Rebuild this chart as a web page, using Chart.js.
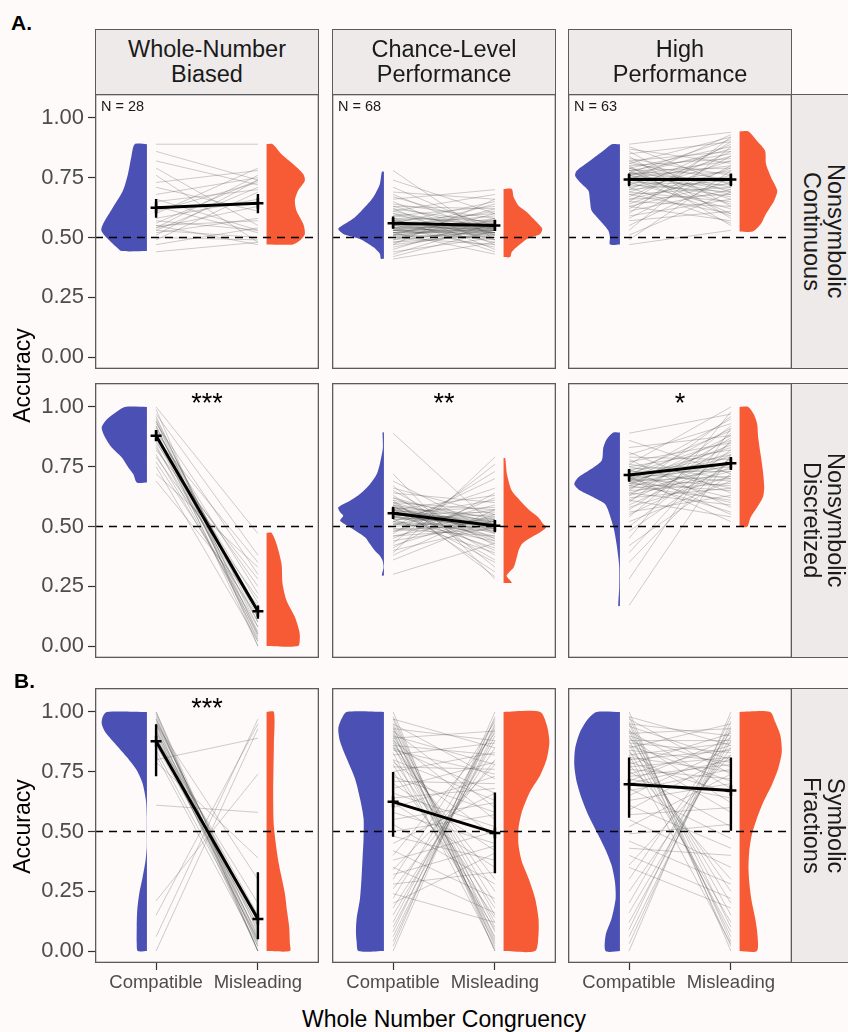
<!DOCTYPE html>
<html>
<head>
<meta charset="utf-8">
<script src="https://cdn.jsdelivr.net/npm/chart.js@4.4.1/dist/chart.umd.min.js"></script>
<style>
html, body { margin: 0; padding: 0; background: #fdfaf9; }
#fig { position: relative; width: 848px; height: 1032px; overflow: hidden; font-family: "Liberation Sans", Arial, sans-serif; color: #1a1a1a; }
.txt { position: absolute; white-space: nowrap; line-height: 1; }
.strip { position: absolute; box-sizing: border-box; background: #eeeaea; border: 1.3px solid #5b5b5b; display: flex; align-items: center; justify-content: center; text-align: center; font-size: 23.5px; line-height: 25px; white-space: pre-line; }
.strip.right { writing-mode: vertical-rl; line-height: 24px; }
canvas { position: absolute; }
</style>
</head>
<body>
<div id="fig"></div>
<script>
// categories / labels
const conditions = ['Whole-Number\nBiased', 'Chance-Level\nPerformance', 'High\nPerformance'];
const formats = ['Nonsymbolic\nContinuous', 'Nonsymbolic\nDiscretized', 'Symbolic\nFractions'];
const groupN = [28, 68, 63];
const xCategories = ['Compatible', 'Misleading'];
const yTicks = [0, 0.25, 0.5, 0.75, 1];
const chanceLevel = 0.5;
const sigStars = [['', '', ''], ['***', '**', '*'], ['***', '', '']];

// group means and intervals [row][col]
const meanCompatible = [[0.624, 0.560, 0.742], [0.879, 0.555, 0.715], [0.877, 0.624, 0.698]];
const meanMisleading = [[0.643, 0.550, 0.742], [0.146, 0.503, 0.764], [0.134, 0.494, 0.671]];
const ciCompatible = [[[0.582, 0.661], [0.539, 0.588], [0.714, 0.768]], [[0.858, 0.903], [0.531, 0.583], [0.687, 0.740]], [[0.731, 0.948], [0.478, 0.749], [0.557, 0.809]]];
const ciMisleading = [[[0.601, 0.682], [0.529, 0.574], [0.714, 0.768]], [[0.114, 0.170], [0.476, 0.527], [0.736, 0.791]], [[0.049, 0.329], [0.325, 0.663], [0.503, 0.809]]];

// participants [compatible, misleading]
const contWNB = [[0.89,0.89],[0.86,0.74],[0.82,0.72],[0.79,0.55],[0.76,0.48],[0.73,0.78],[0.71,0.61],[0.68,0.75],[0.66,0.53],[0.65,0.70],[0.63,0.52],[0.61,0.73],[0.60,0.79],[0.58,0.66],[0.57,0.53],[0.56,0.74],[0.55,0.57],[0.55,0.47],[0.54,0.76],[0.54,0.63],[0.53,0.50],[0.53,0.71],[0.52,0.58],[0.51,0.74],[0.50,0.49],[0.49,0.69],[0.47,0.54],[0.44,0.48]];
const contChance = [[0.78,0.49],[0.74,0.60],[0.71,0.53],[0.69,0.66],[0.68,0.51],[0.67,0.55],[0.66,0.70],[0.65,0.47],[0.64,0.58],[0.63,0.62],[0.63,0.53],[0.62,0.45],[0.62,0.56],[0.61,0.68],[0.61,0.52],[0.60,0.54],[0.60,0.49],[0.59,0.63],[0.59,0.55],[0.58,0.52],[0.58,0.57],[0.58,0.44],[0.57,0.53],[0.57,0.60],[0.57,0.51],[0.56,0.54],[0.56,0.65],[0.56,0.52],[0.56,0.48],[0.55,0.56],[0.55,0.53],[0.55,0.59],[0.55,0.50],[0.54,0.54],[0.54,0.52],[0.54,0.61],[0.54,0.46],[0.54,0.55],[0.53,0.53],[0.53,0.57],[0.53,0.51],[0.53,0.64],[0.53,0.54],[0.53,0.49],[0.52,0.52],[0.52,0.56],[0.52,0.43],[0.52,0.58],[0.52,0.53],[0.51,0.55],[0.51,0.50],[0.51,0.62],[0.51,0.54],[0.50,0.52],[0.50,0.57],[0.50,0.47],[0.49,0.53],[0.49,0.60],[0.48,0.51],[0.48,0.55],[0.47,0.66],[0.47,0.52],[0.46,0.54],[0.45,0.58],[0.44,0.50],[0.43,0.56],[0.42,0.53],[0.41,0.48]];
const contHigh = [[0.89,0.94],[0.88,0.72],[0.87,0.81],[0.86,0.63],[0.85,0.90],[0.84,0.58],[0.83,0.76],[0.82,0.86],[0.82,0.69],[0.81,0.92],[0.81,0.74],[0.80,0.55],[0.80,0.83],[0.79,0.71],[0.79,0.88],[0.79,0.66],[0.78,0.79],[0.78,0.60],[0.78,0.85],[0.77,0.73],[0.77,0.68],[0.77,0.91],[0.77,0.77],[0.76,0.64],[0.76,0.82],[0.76,0.70],[0.76,0.87],[0.75,0.59],[0.75,0.75],[0.75,0.80],[0.74,0.67],[0.74,0.93],[0.73,0.72],[0.73,0.62],[0.72,0.84],[0.72,0.69],[0.71,0.78],[0.71,0.56],[0.70,0.89],[0.70,0.74],[0.69,0.65],[0.69,0.82],[0.68,0.71],[0.68,0.60],[0.67,0.86],[0.66,0.76],[0.66,0.68],[0.65,0.90],[0.65,0.63],[0.64,0.79],[0.63,0.73],[0.63,0.57],[0.62,0.84],[0.61,0.70],[0.60,0.92],[0.59,0.66],[0.58,0.80],[0.57,0.61],[0.55,0.75],[0.53,0.88],[0.51,0.69],[0.49,0.78],[0.47,0.53]];
const discWNB = [[1.00,0.47],[0.99,0.00],[0.97,0.38],[0.96,0.05],[0.95,0.10],[0.94,0.02],[0.94,0.12],[0.93,0.30],[0.92,0.04],[0.92,0.08],[0.91,0.15],[0.90,0.00],[0.90,0.22],[0.89,0.06],[0.88,0.18],[0.88,0.03],[0.87,0.35],[0.86,0.10],[0.85,0.25],[0.84,0.05],[0.83,0.14],[0.82,0.28],[0.80,0.08],[0.79,0.20],[0.77,0.12],[0.75,0.02],[0.72,0.33],[0.69,0.17]];
const discChance = [[0.89,0.50],[0.72,0.28],[0.69,0.47],[0.67,0.33],[0.66,0.55],[0.65,0.42],[0.64,0.60],[0.63,0.38],[0.62,0.51],[0.62,0.45],[0.61,0.29],[0.61,0.53],[0.60,0.49],[0.60,0.36],[0.60,0.57],[0.59,0.44],[0.59,0.52],[0.59,0.31],[0.58,0.50],[0.58,0.54],[0.58,0.40],[0.58,0.47],[0.57,0.51],[0.57,0.63],[0.57,0.43],[0.57,0.50],[0.57,0.35],[0.56,0.52],[0.56,0.48],[0.56,0.58],[0.56,0.45],[0.56,0.50],[0.55,0.53],[0.55,0.41],[0.55,0.49],[0.55,0.56],[0.54,0.51],[0.54,0.46],[0.54,0.61],[0.54,0.50],[0.53,0.52],[0.53,0.39],[0.53,0.55],[0.52,0.49],[0.52,0.66],[0.52,0.44],[0.51,0.51],[0.51,0.57],[0.51,0.48],[0.50,0.53],[0.50,0.70],[0.49,0.50],[0.49,0.46],[0.48,0.59],[0.48,0.52],[0.47,0.73],[0.46,0.49],[0.46,0.54],[0.45,0.62],[0.44,0.51],[0.43,0.76],[0.42,0.55],[0.41,0.64],[0.40,0.50],[0.39,0.79],[0.38,0.57],[0.36,0.53],[0.30,0.43]];
const discHigh = [[0.89,0.97],[0.86,0.72],[0.83,0.88],[0.81,0.64],[0.80,0.93],[0.79,0.78],[0.78,0.58],[0.77,0.85],[0.76,0.70],[0.76,1.00],[0.75,0.66],[0.75,0.82],[0.74,0.76],[0.74,0.55],[0.73,0.90],[0.73,0.73],[0.72,0.62],[0.72,0.86],[0.72,0.69],[0.71,0.80],[0.71,0.52],[0.71,0.95],[0.70,0.75],[0.70,0.67],[0.70,0.83],[0.70,0.60],[0.69,0.79],[0.69,0.71],[0.69,0.91],[0.69,0.56],[0.68,0.77],[0.68,0.84],[0.68,0.65],[0.67,0.74],[0.67,0.88],[0.67,0.61],[0.66,0.81],[0.66,0.70],[0.65,0.96],[0.65,0.68],[0.64,0.76],[0.64,0.59],[0.63,0.87],[0.63,0.73],[0.62,0.66],[0.61,0.80],[0.61,0.54],[0.60,0.92],[0.59,0.78],[0.58,0.71],[0.57,0.85],[0.56,0.63],[0.55,0.75],[0.54,0.89],[0.52,0.69],[0.50,0.82],[0.48,0.77],[0.45,0.98],[0.42,0.72],[0.39,0.86],[0.35,0.79],[0.28,0.91],[0.17,0.80]];
const symWNB = [[1.00,0.00],[1.00,0.05],[0.99,0.02],[0.98,0.00],[0.97,0.08],[0.97,0.04],[0.96,0.10],[0.95,0.00],[0.95,0.12],[0.94,0.06],[0.93,0.03],[0.92,0.15],[0.92,0.00],[0.91,0.09],[0.90,0.04],[0.89,0.20],[0.88,0.07],[0.86,0.11],[0.84,0.05],[0.82,0.02],[0.79,0.39],[0.95,0.30],[0.80,0.89],[0.61,0.58],[0.21,0.74],[0.15,0.95],[0.06,0.97],[0.00,0.93]];
const symChance = [[1.00,0.00],[0.98,0.05],[0.97,0.02],[0.95,0.10],[0.94,0.00],[0.93,0.15],[0.92,0.04],[0.91,0.08],[0.90,0.20],[0.89,0.03],[0.88,0.12],[0.87,0.25],[0.86,0.06],[0.85,0.30],[0.83,0.01],[0.80,0.18],[0.78,0.09],[0.75,0.14],[0.00,0.98],[0.02,1.00],[0.04,0.95],[0.06,0.92],[0.08,0.97],[0.10,0.90],[0.12,0.94],[0.15,0.88],[0.18,0.85],[0.22,0.93],[0.26,0.80],[0.30,0.96],[0.34,0.78],[0.40,0.91],[0.97,0.85],[0.95,0.72],[0.93,0.88],[0.92,0.60],[0.90,0.78],[0.89,0.92],[0.88,0.55],[0.86,0.82],[0.85,0.66],[0.84,0.74],[0.82,0.87],[0.80,0.63],[0.79,0.48],[0.77,0.76],[0.75,0.83],[0.73,0.58],[0.71,0.70],[0.70,0.42],[0.68,0.79],[0.66,0.52],[0.64,0.68],[0.62,0.35],[0.60,0.73],[0.58,0.45],[0.55,0.62],[0.53,0.28],[0.50,0.57],[0.48,0.38],[0.45,0.66],[0.42,0.22],[0.38,0.50],[0.35,0.16],[0.32,0.44],[0.28,0.33],[0.24,0.12],[0.20,0.41]];
const symHigh = [[1.00,0.00],[0.98,0.04],[0.96,0.10],[0.95,0.02],[0.93,0.15],[0.92,0.06],[0.90,0.20],[0.88,0.08],[0.86,0.25],[0.84,0.12],[0.82,0.03],[0.78,0.30],[0.00,1.00],[0.03,0.96],[0.06,0.93],[0.09,0.98],[0.12,0.90],[0.16,0.88],[0.20,0.94],[0.25,0.85],[0.30,0.92],[0.36,0.82],[0.98,0.86],[0.97,0.74],[0.95,0.90],[0.94,0.80],[0.92,0.68],[0.91,0.93],[0.90,0.77],[0.89,0.62],[0.88,0.88],[0.87,0.83],[0.86,0.71],[0.85,0.95],[0.84,0.79],[0.83,0.58],[0.82,0.87],[0.81,0.75],[0.80,0.84],[0.79,0.66],[0.78,0.91],[0.77,0.81],[0.76,0.72],[0.75,0.52],[0.74,0.86],[0.73,0.78],[0.72,0.64],[0.71,0.89],[0.70,0.80],[0.68,0.47],[0.67,0.76],[0.65,0.85],[0.63,0.70],[0.61,0.43],[0.59,0.82],[0.57,0.60],[0.55,0.35],[0.52,0.74],[0.49,0.53],[0.46,0.28],[0.43,0.40],[0.40,0.22],[0.35,0.18]];

// half-violin density profiles [accuracy, half-width]
const vCompCont = [[[0.89,0.12],[0.835,0.154],[0.765,0.186],[0.696,0.235],[0.626,0.333],[0.557,0.43],[0.529,0.448],[0.501,0.40],[0.46,0.30],[0.443,0.25]],
  [[0.775,0.02],[0.724,0.04],[0.668,0.105],[0.627,0.186],[0.585,0.284],[0.557,0.382],[0.536,0.448],[0.515,0.399],[0.494,0.235],[0.46,0.105],[0.432,0.04],[0.411,0.03]],
  [[0.89,0.08],[0.8625,0.163],[0.821,0.294],[0.779,0.425],[0.758,0.44],[0.73,0.39],[0.696,0.31],[0.654,0.294],[0.6125,0.278],[0.571,0.196],[0.529,0.114],[0.501,0.098],[0.471,0.098]]];
const vMisCont = [[[0.89,0.06],[0.848,0.147],[0.807,0.26],[0.765,0.36],[0.737,0.376],[0.696,0.31],[0.654,0.278],[0.612,0.294],[0.557,0.36],[0.515,0.376],[0.487,0.327],[0.471,0.26]],
  [[0.703,0.08],[0.668,0.10],[0.633,0.147],[0.606,0.23],[0.578,0.294],[0.557,0.34],[0.536,0.38],[0.515,0.36],[0.494,0.23],[0.466,0.147],[0.439,0.08],[0.418,0.065]],
  [[0.943,0.088],[0.904,0.17],[0.8625,0.25],[0.807,0.26],[0.751,0.31],[0.696,0.37],[0.654,0.34],[0.599,0.26],[0.557,0.21],[0.525,0.13]]];
const vCompDisc = [[[1.0,0.216],[0.976,0.31],[0.949,0.39],[0.914,0.444],[0.872,0.41],[0.83,0.346],[0.789,0.248],[0.747,0.183],[0.719,0.134],[0.684,0.10]],
  [[0.893,0.013],[0.83,0.01],[0.761,0.04],[0.719,0.07],[0.677,0.137],[0.636,0.235],[0.608,0.333],[0.58,0.448],[0.559,0.43],[0.545,0.40],[0.524,0.43],[0.497,0.333],[0.455,0.186],[0.427,0.137],[0.399,0.088],[0.378,0.04],[0.357,0.013],[0.33,0.004],[0.295,0.02]],
  [[0.893,0.065],[0.865,0.13],[0.83,0.163],[0.775,0.18],[0.733,0.31],[0.705,0.41],[0.677,0.448],[0.65,0.39],[0.622,0.26],[0.594,0.147],[0.566,0.114],[0.524,0.082],[0.483,0.056],[0.427,0.033],[0.371,0.016],[0.33,0.007],[0.246,0.007],[0.167,0.016]]];
const vMisDisc = [[[0.473,0.05],[0.427,0.098],[0.344,0.147],[0.26,0.157],[0.19,0.196],[0.121,0.278],[0.065,0.32],[0.0375,0.327],[0,0.31]],
  [[0.786,0.016],[0.719,0.033],[0.65,0.08],[0.608,0.163],[0.566,0.26],[0.538,0.343],[0.51,0.39],[0.497,0.418],[0.476,0.36],[0.448,0.245],[0.427,0.18],[0.399,0.147],[0.371,0.13],[0.33,0.1],[0.295,0.03],[0.274,0.065],[0.264,0.08]],
  [[1.0,0.085],[0.969,0.14],[0.928,0.173],[0.872,0.183],[0.803,0.206],[0.733,0.229],[0.663,0.242],[0.622,0.229],[0.58,0.173],[0.538,0.108],[0.499,0.075]]];
const vCompSym = [[[1.0,0.395],[0.979,0.435],[0.951,0.444],[0.916,0.41],[0.868,0.314],[0.812,0.2],[0.756,0.1],[0.70,0.042],[0.631,0.01],[0.561,0.002],[0.49,0.002],[0.436,0.002],[0.38,0.013],[0.31,0.042],[0.241,0.075],[0.171,0.095],[0.102,0.1],[0.032,0.1],[0,0.09]],
  [[1.0,0.366],[0.972,0.415],[0.93,0.448],[0.875,0.43],[0.805,0.366],[0.721,0.284],[0.638,0.235],[0.554,0.2],[0.471,0.2],[0.387,0.21],[0.304,0.22],[0.22,0.235],[0.136,0.268],[0.081,0.275],[0.039,0.268],[0,0.25]],
  [[1.0,0.229],[0.972,0.31],[0.916,0.392],[0.847,0.44],[0.777,0.448],[0.708,0.425],[0.638,0.376],[0.568,0.31],[0.499,0.229],[0.429,0.147],[0.359,0.082],[0.29,0.049],[0.22,0.042],[0.136,0.082],[0.067,0.14],[0,0.14]]];
const vMisSym = [[[1.0,0.072],[0.868,0.072],[0.659,0.065],[0.52,0.072],[0.38,0.114],[0.31,0.147],[0.241,0.18],[0.171,0.2],[0.102,0.222],[0.032,0.229],[0,0.229]],
  [[1.0,0.36],[0.944,0.425],[0.875,0.45],[0.805,0.425],[0.735,0.36],[0.666,0.26],[0.582,0.18],[0.513,0.147],[0.443,0.147],[0.373,0.18],[0.304,0.245],[0.22,0.31],[0.136,0.343],[0.067,0.343],[0,0.31]],
  [[1.0,0.30],[0.958,0.35],[0.903,0.40],[0.833,0.415],[0.763,0.38],[0.694,0.317],[0.624,0.235],[0.554,0.17],[0.485,0.12],[0.415,0.095],[0.345,0.088],[0.276,0.098],[0.206,0.12],[0.136,0.154],[0.067,0.176],[0,0.17]]];

const participants = [[contWNB, contChance, contHigh], [discWNB, discChance, discHigh], [symWNB, symChance, symHigh]];
const violinComp = [vCompCont, vCompDisc, vCompSym];
const violinMis = [vMisCont, vMisDisc, vMisSym];

// layout
const colLeft = [95, 332, 568];
const rowTop = [94, 383, 688];
const panelW = 224, panelH = 275, yAxisW = 65, xAxisH = 40;
const compEdge = 0.91, misEdge = 2.085;
const BLUE = '#4b50b5', ORANGE = '#f65b36';

Chart.defaults.font.family = '"Liberation Sans", Arial, sans-serif';

const fig = document.getElementById('fig');
function addText(txt, css) {
  const d = document.createElement('div');
  d.className = 'txt';
  d.textContent = txt;
  Object.assign(d.style, css);
  fig.appendChild(d);
  return d;
}

const panelBorder = {
  id: 'panelBorder',
  afterDraw(chart) {
    const { ctx, chartArea: a } = chart;
    ctx.save();
    ctx.strokeStyle = '#5b5b5b';
    ctx.lineWidth = 1.3;
    ctx.strokeRect(a.left + 0.65, a.top + 0.65, a.right - a.left - 1.3, a.bottom - a.top - 1.3);
    ctx.restore();
  }
};

function violinPoints(profile, edge, dir) {
  const pts = [{ x: edge, y: profile[0][0] }];
  profile.forEach(([y, w]) => pts.push({ x: edge + dir * w, y: y }));
  pts.push({ x: edge, y: profile[profile.length - 1][0] });
  return pts;
}

function pairLines(pairs) {
  const d = [];
  pairs.forEach(([c, m]) => d.push({ x: 1, y: c }, { x: 2, y: m }, { x: 1.5, y: null }));
  return d;
}

// fixed axis boxes, no automatic label padding
function fitAxis(size, horizontal) {
  return (s) => {
    if (horizontal) s.height = size; else s.width = size;
    s.paddingLeft = s.paddingRight = s.paddingTop = s.paddingBottom = 0;
  };
}

function makePanel(r, c) {
  const showY = c === 0, showX = r === 2;
  const cv = document.createElement('canvas');
  const w = panelW + (showY ? yAxisW : 0);
  const h = panelH + (showX ? xAxisH : 0);
  cv.width = w; cv.height = h;
  cv.style.left = (colLeft[c] - (showY ? yAxisW : 0)) + 'px';
  cv.style.top = rowTop[r] + 'px';
  cv.style.width = w + 'px'; cv.style.height = h + 'px';
  fig.appendChild(cv);

  const ciC = ciCompatible[r][c], ciM = ciMisleading[r][c];
  const datasets = [
    { data: [{ x: 1, y: meanCompatible[r][c] }, { x: 2, y: meanMisleading[r][c] }],
      borderColor: '#000', borderWidth: 3, pointStyle: 'cross', pointRadius: 5.5,
      pointBorderWidth: 2.5, pointBorderColor: '#000', order: 0 },
    { data: [{ x: 1, y: ciC[0] }, { x: 1, y: ciC[1] }, { x: 1.5, y: null }, { x: 2, y: ciM[0] }, { x: 2, y: ciM[1] }],
      borderColor: '#000', borderWidth: 2.4, pointRadius: 0, order: 1 },
    { data: [{ x: 0.4, y: chanceLevel }, { x: 2.6, y: chanceLevel }],
      borderColor: '#000', borderWidth: 1.6, borderDash: [8, 6], pointRadius: 0, order: 2 },
    { data: pairLines(participants[r][c]),
      borderColor: 'rgba(70,70,70,0.26)', borderWidth: 1, pointRadius: 0, order: 3 },
    { data: violinPoints(violinComp[r][c], compEdge, -1),
      backgroundColor: BLUE, borderWidth: 0, pointRadius: 0, fill: 'shape', tension: 0.25, order: 4 },
    { data: violinPoints(violinMis[r][c], misEdge, 1),
      backgroundColor: ORANGE, borderWidth: 0, pointRadius: 0, fill: 'shape', tension: 0.25, order: 5 }
  ];

  new Chart(cv, {
    type: 'line',
    data: { datasets },
    options: {
      responsive: false, animation: false, events: [],
      layout: { padding: 0, autoPadding: false },
      plugins: { legend: { display: false }, tooltip: { enabled: false } },
      scales: {
        x: {
          type: 'linear', min: 0.4, max: 2.6, display: showX,
          afterBuildTicks: (s) => { s.ticks = [{ value: 1 }, { value: 2 }]; },
          afterFit: fitAxis(showX ? xAxisH : 0, true),
          border: { display: false },
          grid: { drawOnChartArea: false, drawTicks: true, tickLength: 7, tickColor: '#333', tickWidth: 1.2 },
          ticks: { autoSkip: false, maxRotation: 0, padding: 2, color: '#4d4d4d', font: { size: 18.5 },
                   callback: (v) => xCategories[Math.round(v) - 1] }
        },
        y: {
          type: 'linear', min: -0.05, max: 1.1, display: showY,
          afterBuildTicks: (s) => { s.ticks = yTicks.map(v => ({ value: v })); },
          afterFit: fitAxis(showY ? yAxisW : 0, false),
          border: { display: false },
          grid: { drawOnChartArea: false, drawTicks: true, tickLength: 7, tickColor: '#333', tickWidth: 1.2 },
          ticks: { padding: 4, color: '#4d4d4d', font: { size: 22 }, callback: (v) => v.toFixed(2) }
        }
      }
    },
    plugins: [panelBorder]
  });
}

for (let r = 0; r < 3; r++) for (let c = 0; c < 3; c++) makePanel(r, c);

// facet strips
conditions.forEach((t, c) => {
  const s = document.createElement('div');
  s.className = 'strip';
  s.textContent = t;
  Object.assign(s.style, { left: colLeft[c] + 'px', top: '29px', width: panelW + 'px', height: '66px' });
  fig.appendChild(s);
});
formats.forEach((t, r) => {
  const s = document.createElement('div');
  s.className = 'strip right';
  s.textContent = t;
  Object.assign(s.style, { left: '791px', top: rowTop[r] + 'px', width: '66px', height: panelH + 'px' });
  fig.appendChild(s);
});

// annotations
groupN.forEach((n, c) => addText('N = ' + n, { left: (colLeft[c] + 6) + 'px', top: '99px', fontSize: '14.5px' }));
sigStars.forEach((row, r) => row.forEach((st, c) => {
  if (!st) return;
  addText(st, { left: colLeft[c] + 'px', width: panelW + 'px', textAlign: 'center', top: (rowTop[r] + 7) + 'px', fontSize: '27px', color: '#000' });
}));

addText('A.', { left: '11px', top: '12px', fontSize: '21px', fontWeight: 'bold', color: '#000' });
addText('B.', { left: '14px', top: '670px', fontSize: '21px', fontWeight: 'bold', color: '#000' });
addText('Accuracy', { left: '-78px', top: '364px', width: '200px', textAlign: 'center', fontSize: '23px', transform: 'rotate(-90deg)', color: '#000' });
addText('Accuracy', { left: '-78px', top: '815px', width: '200px', textAlign: 'center', fontSize: '23px', transform: 'rotate(-90deg)', color: '#000' });
addText('Whole Number Congruency', { left: '244px', width: '400px', textAlign: 'center', top: '1008px', fontSize: '23px', color: '#000' });
</script>
</body>
</html>
